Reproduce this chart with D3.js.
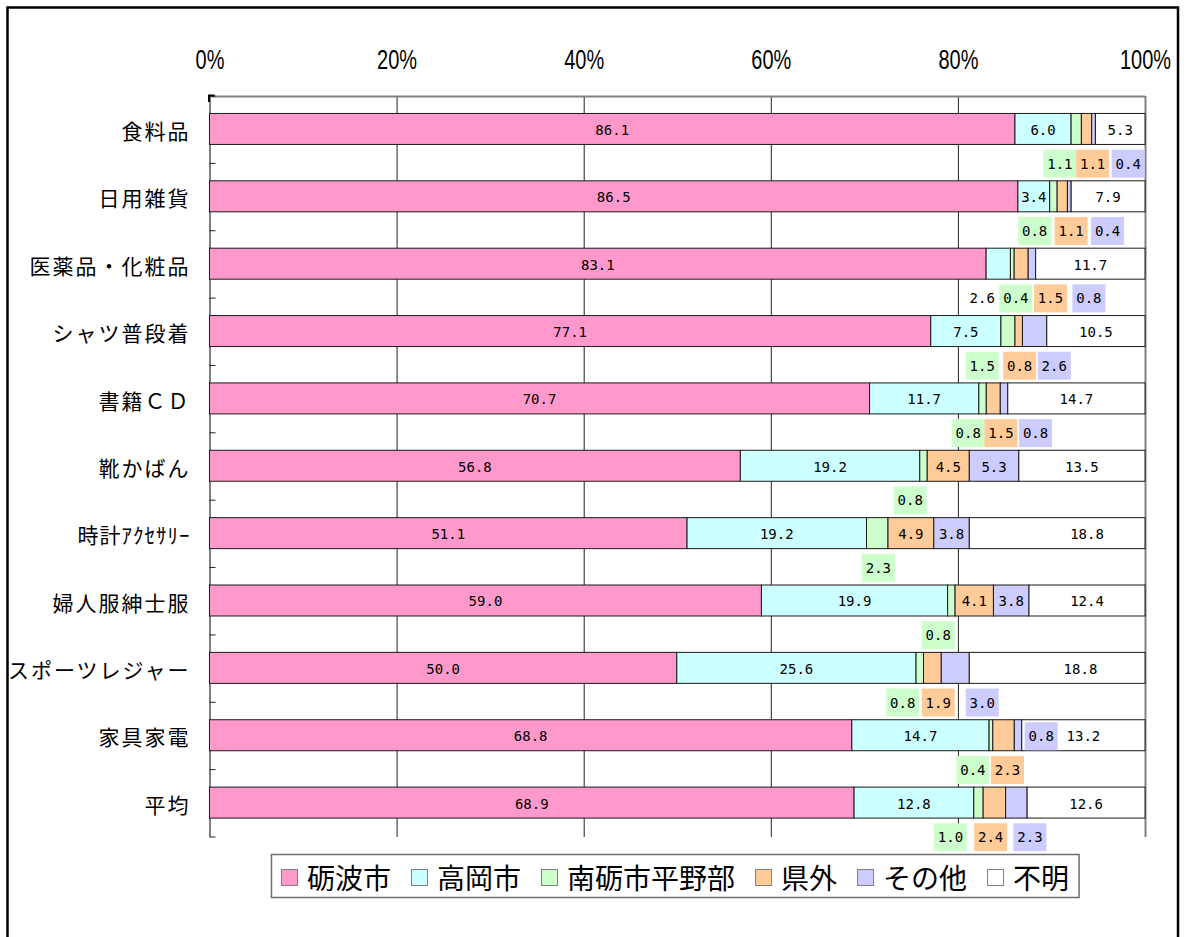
<!DOCTYPE html>
<html>
<head>
<meta charset="utf-8">
<script src="https://cdn.jsdelivr.net/npm/d3@7"></script>
<style>
  html, body { margin: 0; padding: 0; background: #fff; }
  svg { display: block; }
</style>
</head>
<body>
<svg id="chart" width="1186" height="937"></svg>
<script>
// ---- data -------------------------------------------------------------
const categories = ['食料品', '日用雑貨', '医薬品・化粧品', 'シャツ普段着', '書籍ＣＤ', '靴かばん',
  '時計ｱｸｾｻﾘｰ', '婦人服紳士服', 'スポーツレジャー', '家具家電', '平均'];
const seriesNames = ['砺波市', '高岡市', '南砺市平野部', '県外', 'その他', '不明'];

const tonami      = [86.1, 86.5, 83.1, 77.1, 70.7, 56.8, 51.1, 59.0, 50.0, 68.8, 68.9];
const takaoka     = [6.0, 3.4, 2.6, 7.5, 11.7, 19.2, 19.2, 19.9, 25.6, 14.7, 12.8];
const nantoPlain  = [1.1, 0.8, 0.4, 1.5, 0.8, 0.8, 2.3, 0.8, 0.8, 0.4, 1.0];
const outsidePref = [1.1, 1.1, 1.5, 0.8, 1.5, 4.5, 4.9, 4.1, 1.9, 2.3, 2.4];
const other       = [0.4, 0.4, 0.8, 2.6, 0.8, 5.3, 3.8, 3.8, 3.0, 0.8, 2.3];
const unknown     = [5.3, 7.9, 11.7, 10.5, 14.7, 13.5, 18.8, 12.4, 18.8, 13.2, 12.6];

const xTicks = [0, 0.2, 0.4, 0.6, 0.8, 1];

// value labels centred on their own segment (series index per category)
const inBarLabels = [[0, 1, 5], [0, 1, 5], [0, 5], [0, 1, 5], [0, 1, 5], [0, 1, 3, 4, 5],
  [0, 1, 3, 4], [0, 1, 3, 4, 5], [0, 1], [0, 1, 5], [0, 1, 5]];
// value labels moved away from their segment: [category, series, position (%), row]
const movedLabels = [
  [0, 2, 90.9, 'gap'], [0, 3, 94.4, 'gap'], [0, 4, 98.2, 'gap'],
  [1, 2, 88.2, 'gap'], [1, 3, 92.1, 'gap'], [1, 4, 96.0, 'gap'],
  [2, 1, 82.6, 'gap'], [2, 2, 86.2, 'gap'], [2, 3, 89.9, 'gap'], [2, 4, 94.0, 'gap'],
  [3, 2, 82.6, 'gap'], [3, 3, 86.6, 'gap'], [3, 4, 90.3, 'gap'],
  [4, 2, 81.1, 'gap'], [4, 3, 84.6, 'gap'], [4, 4, 88.3, 'gap'],
  [5, 2, 74.9, 'gap'],
  [6, 2, 71.5, 'gap'], [6, 5, 93.8, 'bar'],
  [7, 2, 77.9, 'gap'],
  [8, 2, 74.1, 'gap'], [8, 3, 77.9, 'gap'], [8, 4, 82.6, 'gap'], [8, 5, 93.1, 'bar'],
  [9, 2, 81.6, 'gap'], [9, 3, 85.3, 'gap'], [9, 4, 88.9, 'bar'],
  [10, 2, 79.2, 'gap'], [10, 3, 83.5, 'gap'], [10, 4, 87.7, 'gap']
];

// ---- setup ------------------------------------------------------------
const colors = ['#FF99CC', '#CCFFFF', '#CCFFCC', '#FFCC99', '#CCCCFF', '#FFFFFF'];
const boxedSeries = new Set([2, 3, 4]);
const seriesValues = [tonami, takaoka, nantoPlain, outsidePref, other, unknown];

const table = categories.map((c, i) => {
  const row = { cat: c };
  seriesValues.forEach((vals, s) => { row[s] = vals[i]; });
  return row;
});
const stacked = d3.stack().keys(d3.range(seriesNames.length)).offset(d3.stackOffsetExpand)(table);

const svg = d3.select('#chart');
const plot = { left: 209.5, right: 1145, top: 96, bottom: 837 };

const x = d3.scaleLinear().domain([0, 1]).range([plot.left, plot.right]);
const y = d3.scaleBand().domain(categories).range([plot.top, plot.bottom])
  .paddingInner(0.54).paddingOuter(0.27).align(0.48);

const labelFont = "'DejaVu Sans Mono', monospace";
const cjkFont = "'Noto Sans CJK JP', sans-serif";
const fmt = d3.format('.1f');

// outer frame
svg.append('rect')
  .attr('x', 7.5).attr('y', 7.5).attr('width', 1170.5).attr('height', 945)
  .attr('fill', '#fff').attr('stroke', '#000').attr('stroke-width', 2.5);

// ---- top axis with vertical gridlines ----------------------------------
const xAxis = svg.append('g')
  .attr('transform', `translate(0,${plot.top})`)
  .call(d3.axisTop(x).tickValues(xTicks).tickFormat(d3.format('.0%'))
    .tickSizeInner(-(plot.bottom - plot.top)).tickSizeOuter(0).tickPadding(27));
xAxis.select('.domain').remove();
xAxis.selectAll('.tick line')
  .attr('stroke', d => (d === 0 || d === 1) ? '#808080' : '#222')
  .attr('stroke-width', d => (d === 0 || d === 1) ? 2 : 1);
xAxis.selectAll('.tick text')
  .attr('fill', '#000')
  .style('font-family', "'Liberation Sans', Arial, sans-serif")
  .style('font-size', '27px')
  .attr('transform', 'scale(0.74,1)');

// top edge of the plot
svg.append('line')
  .attr('x1', plot.left).attr('x2', plot.right)
  .attr('y1', plot.top + 0.5).attr('y2', plot.top + 0.5)
  .attr('stroke', '#808080').attr('stroke-width', 2);

// left category axis: ticks on the band boundaries
const boundaries = d3.range(categories.length + 1).map(k => y.range()[0] + k * y.step());
svg.append('g').selectAll('line').data(boundaries).join('line')
  .attr('x1', plot.left).attr('x2', plot.left + 6)
  .attr('y1', d => d).attr('y2', d => d)
  .attr('stroke', '#222').attr('stroke-width', 1);
svg.append('path')
  .attr('d', `M${plot.left - 0.5},${plot.top + 6}V${plot.top - 0.5}H${plot.left + 5}`)
  .attr('fill', 'none').attr('stroke', '#000').attr('stroke-width', 2);

const yAxis = svg.append('g')
  .attr('transform', `translate(${plot.left},0)`)
  .call(d3.axisLeft(y).tickSize(0).tickPadding(19));
yAxis.select('.domain').remove();
yAxis.selectAll('.tick text')
  .attr('fill', '#000')
  .attr('dy', '0.48em')
  .style('font-family', cjkFont)
  .style('font-size', '21px')
  .style('letter-spacing', d => /[\uFF61-\uFF9F]/.test(d) ? '1px' : '2px');

// ---- stacked bars -----------------------------------------------------
const layers = svg.append('g').selectAll('g').data(stacked).join('g')
  .attr('fill', (d, i) => colors[i]);
layers.selectAll('rect').data(d => d).join('rect')
  .attr('x', d => x(d[0]))
  .attr('y', d => y(d.data.cat))
  .attr('width', d => Math.max(0, x(d[1]) - x(d[0])))
  .attr('height', y.bandwidth())
  .attr('stroke', '#1a1a1a').attr('stroke-width', 1);

// ---- value labels -----------------------------------------------------
const labelItems = [];
inBarLabels.forEach((list, c) => list.forEach(s => {
  const seg = stacked[s][c];
  labelItems.push({
    cx: (x(seg[0]) + x(seg[1])) / 2,
    cy: y(categories[c]) + y.bandwidth() / 2 + 1,
    text: fmt(seriesValues[s][c]),
    box: null
  });
}));
movedLabels.forEach(([c, s, pct, row]) => {
  const cy = y(categories[c]) + y.bandwidth() / 2 + (row === 'gap' ? y.step() / 2 + 1 : 1);
  labelItems.push({
    cx: x(pct / 100),
    cy,
    text: fmt(seriesValues[s][c]),
    box: boxedSeries.has(s) ? colors[s] : null
  });
});

const labels = svg.append('g').selectAll('g').data(labelItems).join('g')
  .attr('transform', d => `translate(${d.cx},${d.cy})`);
labels.filter(d => d.box).append('rect')
  .attr('x', -16.5).attr('y', -14).attr('width', 33).attr('height', 28)
  .attr('fill', d => d.box);
labels.append('text')
  .attr('text-anchor', 'middle')
  .attr('dominant-baseline', 'central')
  .attr('fill', '#000')
  .style('font-family', labelFont)
  .style('font-size', '14px')
  .text(d => d.text);

// ---- legend -----------------------------------------------------------
const legend = svg.append('g');
const legendBox = legend.append('rect')
  .attr('x', 271.5).attr('y', 854.5).attr('height', 43)
  .attr('fill', '#fff').attr('stroke', '#6e6e6e').attr('stroke-width', 1.5);
let lx = 281;
const legendMid = 877;
seriesNames.forEach((name, i) => {
  legend.append('rect')
    .attr('x', lx + 0.5).attr('y', legendMid - 8 + 0.5).attr('width', 16).attr('height', 16)
    .attr('fill', colors[i]).attr('stroke', '#808080').attr('stroke-width', 1);
  const t = legend.append('text')
    .attr('x', lx + 26).attr('y', legendMid)
    .attr('dominant-baseline', 'central')
    .attr('fill', '#000')
    .style('font-family', cjkFont)
    .style('font-size', '28px')
    .text(name);
  lx += 26 + t.node().getComputedTextLength() + 20;
});
legendBox.attr('width', lx - 20 + 10 - 271.5);
</script>
</body>
</html>
